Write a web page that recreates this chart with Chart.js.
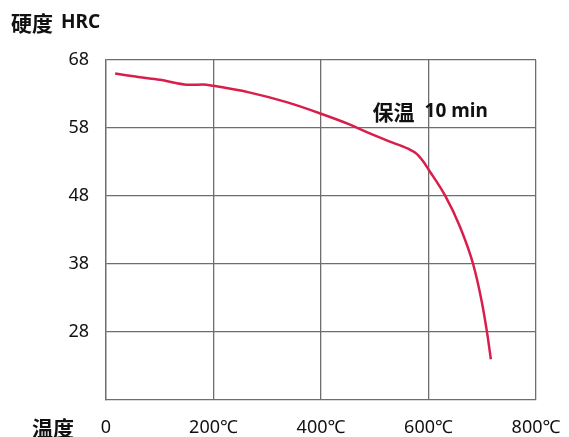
<!DOCTYPE html>
<html>
<head>
<meta charset="utf-8">
<script src="https://cdn.jsdelivr.net/npm/chart.js@4/dist/chart.umd.min.js"></script>
<style>
  html, body { margin: 0; padding: 0; background: #fff; }
  #wrap { width: 569px; height: 437px; position: relative; }
</style>
</head>
<body>
<div id="wrap"><canvas id="hardnessChart"></canvas></div>
<script>
// temperature (℃) and hardness (HRC)
const temps    = [17, 60, 100, 156, 181, 200, 268, 336, 400, 454, 482, 528, 562, 578, 590, 600, 631, 659, 683, 699, 709, 716];
const hardness = [66.0, 65.5, 65.1, 64.35, 64.4, 64.2, 63.2, 61.8, 60.1, 58.5, 57.5, 56.0, 54.95, 54.2, 53.1, 51.9, 48.05, 43.4, 38.0, 32.5, 27.9, 24.0];
const yTicks = [28, 38, 48, 58, 68];
const xTicks = [0, 200, 400, 600, 800];

const LATIN = "'Noto Sans', sans-serif";
const CJK = "'Noto Sans CJK SC', sans-serif";

// extra texts: axis titles and the annotation
const labelsPlugin = {
    id: 'labels',
    afterDraw(chart) {
        const ctx = chart.ctx;
        const x = chart.scales.x, y = chart.scales.y;
        const ax = x.getPixelForValue(496), ay = y.getPixelForValue(60.4);
        ctx.save();
        ctx.fillStyle = '#111';
        ctx.textBaseline = 'middle';
        ctx.textAlign = 'left';
        ctx.font = 'bold 21px ' + CJK;
        ctx.fillText('硬度', 11, 23);
        ctx.fillText('温度', 32, 428);
        ctx.fillText('保温', ax, ay);
        ctx.font = 'bold 19px ' + LATIN;
        ctx.fillText('HRC', 61, 23);
        ctx.fillText('10 min', ax + 52, ay);
        ctx.restore();
    }
};

// keep the plot area where the reference has it, ignore label overflow padding
const noOverflow = s => { s.paddingLeft = 0; s.paddingRight = 0; s.paddingTop = 0; s.paddingBottom = 0; };

new Chart(document.getElementById('hardnessChart'), {
    type: 'scatter',
    data: {
        datasets: [{
            data: temps.map((t, i) => ({ x: t, y: hardness[i] })),
            showLine: true,
            borderColor: '#D81E4A',
            borderWidth: 2.5,
            pointRadius: 0,
            cubicInterpolationMode: 'monotone',
            fill: false
        }]
    },
    options: {
        responsive: true,
        maintainAspectRatio: false,
        animation: false,
        layout: { padding: { left: 0, right: 33, top: 60, bottom: 0 } },
        plugins: { legend: { display: false }, tooltip: { enabled: false } },
        scales: {
            x: {
                type: 'linear',
                min: 0, max: 800,
                afterBuildTicks: s => { s.ticks = xTicks.map(v => ({ value: v })); },
                afterFit: s => { s.height = 37; noOverflow(s); },
                grid: { color: '#6e6e6e', lineWidth: 1.3, drawTicks: false },
                border: { color: '#6e6e6e', width: 1.3 },
                ticks: {
                    padding: 17,
                    color: '#111',
                    font: { family: LATIN, size: 18 },
                    maxRotation: 0,
                    callback: v => v === 0 ? '0' : v + '℃'
                }
            },
            y: {
                type: 'linear',
                min: 18, max: 68,
                afterBuildTicks: s => { s.ticks = yTicks.map(v => ({ value: v })); },
                afterFit: s => { s.width = 106; noOverflow(s); },
                grid: { color: '#6e6e6e', lineWidth: 1.3, drawTicks: false },
                border: { color: '#6e6e6e', width: 1.3 },
                ticks: {
                    padding: 17,
                    color: '#111',
                    font: { family: LATIN, size: 18 }
                }
            }
        }
    },
    plugins: [labelsPlugin]
});
</script>
</body>
</html>
